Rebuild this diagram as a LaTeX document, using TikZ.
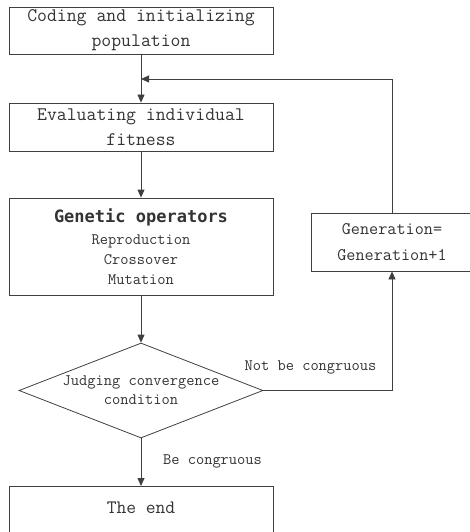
\documentclass[tikz,border=0pt]{standalone}
\usepackage{fontspec}
\newfontfamily\boldmono{DejaVu Sans Mono}
\usetikzlibrary{shapes.geometric,arrows.meta}
\definecolor{txt}{HTML}{333333}
\definecolor{ln}{HTML}{404040}
\tikzset{
  box/.style={draw=ln, line width=0.8pt, rectangle, inner sep=0pt, align=center, text=txt, font=\ttfamily\fontsize{19.2}{25}\selectfont},
  smalltxt/.style={text=txt, font=\ttfamily\fontsize{16}{19}\selectfont},
  arr/.style={draw=ln, line width=0.8pt, -{Triangle[width=7pt,length=8pt]}},
}
\begin{document}
\begin{tikzpicture}[x=1pt,y=-1pt]
\useasboundingbox (0,0) rectangle (470,532);
\clip (0,0) rectangle (470,532);
\node[box, minimum width=264pt, minimum height=47pt] (init) at (141,30.5) {Coding and initializing\\population};
\node[box, minimum width=264pt, minimum height=48pt] (eval) at (141,127) {Evaluating individual\\fitness};
\node[box, minimum width=264pt, minimum height=97pt, font=\ttfamily\fontsize{16}{20}\selectfont] (ops) at (141,246.5)
  {{\boldmono\bfseries\fontsize{17}{20}\selectfont Genetic operators}\\[2pt]Reproduction\\Crossover\\Mutation};
\node[box, minimum width=162pt, minimum height=58pt, font=\ttfamily\fontsize{17.7}{25.5}\selectfont] (gen) at (392,242) {Generation=\\Generation+1};
\node[draw=ln, line width=0.8pt, diamond, minimum width=244pt, minimum height=95pt, inner sep=0pt,
  label={[smalltxt, align=center]center:Judging convergence\\condition}] (judge) at (141,390.5) {};
\node[box, minimum width=264pt, minimum height=70pt, anchor=north] (endb) at (141,486) {};
\node[text=txt, font=\ttfamily\fontsize{19}{20}\selectfont] (endt) at (141,508) {The end};
\coordinate (fb) at (141,79);
\draw[arr] (init.south) -- (eval.north);
\draw[arr] (gen.north) |- (fb);
\draw[arr] (eval.south) -- (ops.north);
\draw[arr] (ops.south) -- (judge.north);
\draw[arr] (judge.east) -| (gen.south);
\draw[arr] (judge.south) -- (endb.north);
\node[smalltxt] (notc) at (310.5,367) {Not be congruous};
\node[smalltxt] (bec) at (212.5,461) {Be congruous};
\end{tikzpicture}
\end{document}
